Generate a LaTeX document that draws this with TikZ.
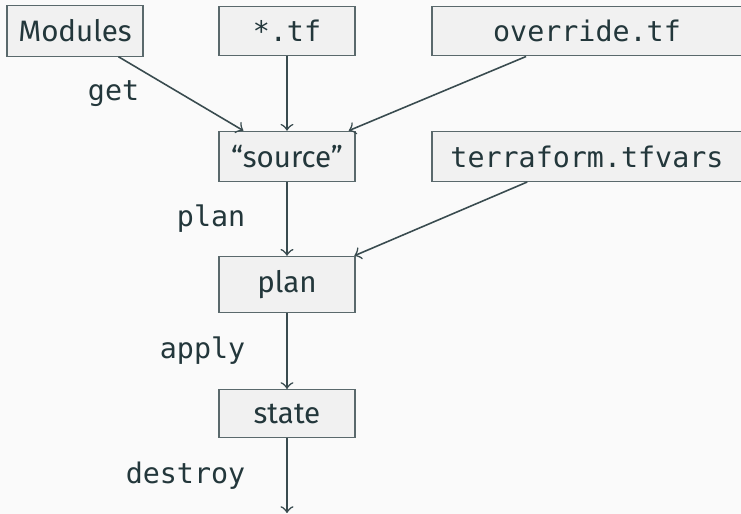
\documentclass[tikz,border=0pt]{standalone}
\usepackage{fontspec}
\setmainfont{Fira Sans}
\setmonofont[Scale=0.96]{DejaVu Sans Mono}
\usepackage{xcolor}
\usepackage{tikz}
\usetikzlibrary{arrows,positioning}
\definecolor{darkteal}{RGB}{35, 55, 59}
\definecolor{pagebg}{RGB}{250, 250, 250}
\definecolor{boxfill}{RGB}{241, 241, 241}

\begin{document}
\begin{tikzpicture}[>=to, font=\fontsize{8.4}{10}\selectfont, text=darkteal,
    box/.style={draw=darkteal!75, fill=boxfill, line width=0.3pt, inner xsep=0.1cm,
        inner ysep=0.14cm, minimum width=1.36cm, minimum height=0.48cm},
    widebox/.style={box, minimum width=3.1cm},
    verb/.style={font=\fontsize{8.4}{10}\selectfont\ttfamily, inner sep=0pt, left=0.41cm},
    flow/.style={->, draw=darkteal!90, line width=0.45pt}]
    % Background and frame
    \path[use as bounding box, fill=pagebg] (0, 0) rectangle (7.41, -5.14);

    % Inputs
    \node[box] (modules) at (0.75, -0.31) {Modules};
    \node[box] (tffiles) at (2.87, -0.31) {\texttt{*.tf}};
    \node[widebox] (override) at (5.87, -0.31) {\texttt{override.tf}};

    % Pipeline
    \node[box] (source) at (2.87, -1.565) {“source”};
    \node[widebox] (tfvars) at (5.87, -1.565) {\texttt{terraform.tfvars}};
    \node[box] (plan) at (2.87, -2.845) {plan};
    \node[box] (state) at (2.87, -4.135) {state};
    \coordinate (gone) at (2.87, -5.13);

    % Connectors
    \draw[flow] (modules) -- (source) node[verb, midway] {get};
    \draw[flow] (tffiles) -- (source);
    \draw[flow] (override) -- (source);
    \draw[flow] (source) -- (plan) node[verb, midway] {plan};
    \draw[flow] (tfvars) -- (plan);
    \draw[flow] (plan) -- (state) node[verb, midway] {apply};
    \draw[flow] (state) -- (gone) node[verb, midway] {destroy};
\end{tikzpicture}
\end{document}
